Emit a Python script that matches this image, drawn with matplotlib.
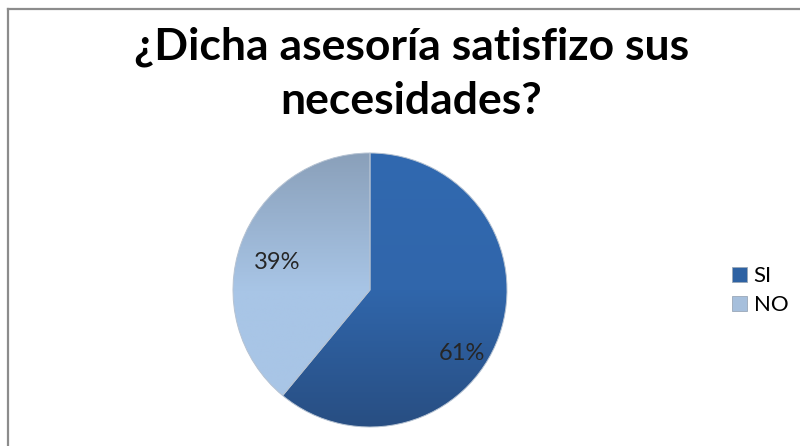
import numpy as np
import matplotlib
matplotlib.use('Agg')
import matplotlib.pyplot as plt
from matplotlib.colors import LinearSegmentedColormap
from matplotlib.patches import Patch
from matplotlib.lines import Line2D

# Data
st_title = '¿Dicha asesoría satisfizo sus\nnecesidades?'
ls_labels = ['SI', 'NO']
ar_values = np.array([61, 39])

# Colours (top -> bottom of the gradient)
ls_grad = [['#3169B0', '#3066AB', '#284E82'],
           ['#8AA0BA', '#A8C5E6', '#A8C5E6']]
ls_legend_col = ['#2E62A3', '#A6BFDC']

plt.rcParams['font.family'] = ['Lato', 'DejaVu Sans']

fig = plt.figure(figsize=(8, 4.46), dpi=100)
fig.patch.set_facecolor('white')

# chart frame (only left / top edges visible)
fig.add_artist(Line2D([7.5 / 800, 7.5 / 800], [0, 1 - 9 / 446], color='#8C8C8C', lw=1.6))
fig.add_artist(Line2D([7.5 / 800, 1], [1 - 9 / 446, 1 - 9 / 446], color='#8C8C8C', lw=1.6))

fig.text(0.514, 0.94, st_title, ha='center', va='top',
         fontsize=32, fontweight='bold', color='black', linespacing=1.42)

ax = fig.add_axes([233 / 800, (446 - 290 - 137) / 446, 274 / 800, 274 / 446])
wedges, texts = ax.pie(ar_values, startangle=90, counterclock=False, radius=1,
                       wedgeprops=dict(edgecolor='#B5C2D2', linewidth=0.7))
ax.set_xlim(-1, 1)
ax.set_ylim(-1, 1)
ax.set_aspect('equal')
ax.axis('off')

# gradient fill clipped to each wedge
for w, cols in zip(wedges, ls_grad):
    cmap = LinearSegmentedColormap.from_list('g', cols[::-1])
    grad = np.linspace(0, 1, 256).reshape(-1, 1)
    im = ax.imshow(grad, cmap=cmap, extent=[-1, 1, -1, 1], origin='lower',
                   aspect='auto', zorder=w.get_zorder() - 0.1)
    im.set_clip_path(w)
    w.set_facecolor('none')

# percentage labels
ls_lbl_pos = [(0.67, -0.46), (-0.68, 0.20)]
for v, (x, y) in zip(ar_values, ls_lbl_pos):
    ax.text(x, y, '%d%%' % v, ha='center', va='center', fontsize=17, color='#262626')

handles = [Patch(facecolor=c, edgecolor='#9AA8B8', linewidth=0.6) for c in ls_legend_col]
fig.legend(handles, ls_labels, loc='center left', bbox_to_anchor=(0.895, 0.348),
           frameon=False, fontsize=16, handlelength=0.7, handleheight=0.7,
           handletextpad=0.3, labelspacing=0.4, borderpad=0.2)

fig.savefig('out.png', dpi=100, facecolor='white')
